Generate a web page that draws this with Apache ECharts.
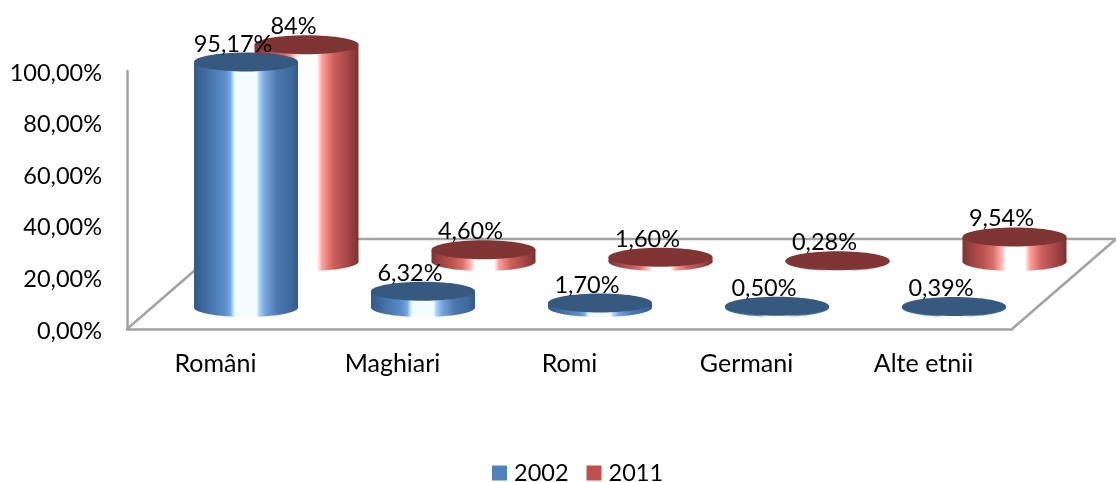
<!DOCTYPE html>
<html>
<head>
<meta charset="utf-8">
<style>
  html, body { margin: 0; padding: 0; background: #fff; }
  #chart { width: 1116px; height: 482px; }
</style>
<script src="https://cdn.jsdelivr.net/npm/echarts@6/dist/echarts.min.js"></script>
</head>
<body>
<div id="chart"></div>
<script>
const categories = ['Români', 'Maghiari', 'Romi', 'Germani', 'Alte etnii']
const values2002 = [95.17, 6.32, 1.70, 0.50, 0.39]
const values2011 = [84, 4.60, 1.60, 0.28, 9.54]
const labels2002 = ['95,17%', '6,32%', '1,70%', '0,50%', '0,39%']
const labels2011 = ['84%', '4,60%', '1,60%', '0,28%', '9,54%']
const yTicks = ['0,00%', '20,00%', '40,00%', '60,00%', '80,00%', '100,00%']

const fontFamily = 'Lato, "Open Sans", sans-serif'
const fontSize = 23.5
const lineColor = '#a3a3a3'
// fake 3d: how far the floor runs back from the front axis
const floorDx = 104
const floorDy = 90
const rx = 52
const ry = 9.5

const shade = (stops) => ({
  type: 'linear', x: 0, y: 0, x2: 1, y2: 0,
  colorStops: stops.map(s => ({ offset: s[0], color: s[1] }))
})

const blueShade = shade([
  [0, '#335a88'], [0.1, '#3f6a9e'], [0.2, '#4d7db6'], [0.3, '#5c8ecb'], [0.35, '#78a8e4'],
  [0.38, '#c8e8ff'], [0.4, '#f4fcff'], [0.6, '#f4fcff'], [0.63, '#a8d0fa'], [0.68, '#78a6e0'],
  [0.8, '#4a78ae'], [0.93, '#3f6a9e'], [1, '#335a88']
])
const redShade = shade([
  [0, '#7d3230'], [0.08, '#9a4240'], [0.2, '#bd5350'], [0.3, '#d8706c'], [0.37, '#ffb0aa'],
  [0.42, '#ffffff'], [0.6, '#ffffff'], [0.65, '#ff9e98'], [0.76, '#cf5f5b'],
  [0.9, '#a24644'], [1, '#7a3230']
])

function cylinder(labels, dx, dy, bodyFill, topFill) {
  return function (params, api) {
    const i = api.value(0)
    const base = api.coord([i, 0])
    const top = api.coord([i, api.value(1)])
    const cx = base[0] + dx
    const by = base[1] - dy
    const ty = top[1] - dy
    return {
      type: 'group',
      children: [
        { type: 'ellipse', shape: { cx: cx, cy: by, rx: rx, ry: ry }, style: { fill: bodyFill } },
        { type: 'rect', shape: { x: cx - rx, y: ty, width: rx * 2, height: by - ty }, style: { fill: bodyFill } },
        { type: 'ellipse', shape: { cx: cx, cy: ty, rx: rx, ry: ry }, style: { fill: topFill } },
        {
          type: 'text',
          style: {
            x: cx - 13, y: ty - 18, text: labels[i], fill: '#000',
            font: fontSize + 'px ' + fontFamily, textAlign: 'center', textVerticalAlign: 'middle'
          }
        }
      ]
    }
  }
}

function floorEdges(params, api) {
  const a = api.coord([0, 0])
  const size = api.size([1, 0])[0]
  const x0 = a[0] - size / 2
  const x1 = x0 + size * categories.length
  const y = a[1]
  const lineStyle = { stroke: lineColor, lineWidth: 2.5 }
  return {
    type: 'group',
    children: [
      { type: 'line', shape: { x1: x0, y1: y, x2: x0 + floorDx, y2: y - floorDy }, style: lineStyle },
      { type: 'line', shape: { x1: x1, y1: y, x2: x1 + floorDx, y2: y - floorDy }, style: lineStyle },
      { type: 'line', shape: { x1: x0 + floorDx, y1: y - floorDy, x2: x1 + floorDx, y2: y - floorDy }, style: lineStyle }
    ]
  }
}

const chart = echarts.init(document.getElementById('chart'))
chart.setOption({
  animation: false,
  color: ['#4f81bd', '#c0504d'],
  textStyle: { fontFamily: fontFamily },
  grid: { left: 127, right: 104, top: 71, bottom: 153 },
  legend: {
    data: ['2002', '2011'],
    left: 492,
    top: 461,
    padding: 0,
    icon: 'rect',
    itemWidth: 15,
    itemHeight: 15,
    itemGap: 18,
    selectedMode: false,
    textStyle: { fontSize: fontSize, color: '#000', fontFamily: fontFamily, padding: [0, 0, 0, 2] }
  },
  xAxis: {
    type: 'category',
    data: categories,
    axisLine: { lineStyle: { color: lineColor, width: 2.5 } },
    axisTick: { show: false },
    axisLabel: { fontSize: 25, color: '#000', margin: 22, fontFamily: fontFamily }
  },
  yAxis: {
    type: 'value',
    min: 0,
    max: 100,
    interval: 20,
    axisLine: { show: true, lineStyle: { color: lineColor, width: 2.5 } },
    axisTick: { show: false },
    splitLine: { show: false },
    axisLabel: {
      color: '#000', margin: 25,
      formatter: (v) => '{t|' + yTicks[v / 20] + '}',
      rich: { t: { fontSize: fontSize, color: '#000', fontFamily: fontFamily, padding: [4, 0, 0, 0] } }
    }
  },
  series: [
    {
      name: '2002',
      type: 'custom',
      z: 4,
      data: values2002.map((v, i) => [i, v]),
      encode: { x: 0, y: 1 },
      renderItem: cylinder(labels2002, 30.5, 21.5, blueShade, '#37587f')
    },
    {
      name: '2011',
      type: 'custom',
      z: 3,
      data: values2011.map((v, i) => [i, v]),
      encode: { x: 0, y: 1 },
      renderItem: cylinder(labels2011, 91, 67.5, redShade, '#7f3533')
    },
    {
      name: 'floor',
      type: 'custom',
      silent: true,
      z: 1,
      data: [[0, 0]],
      encode: { x: 0, y: 1 },
      renderItem: floorEdges
    }
  ]
})
</script>
</body>
</html>
